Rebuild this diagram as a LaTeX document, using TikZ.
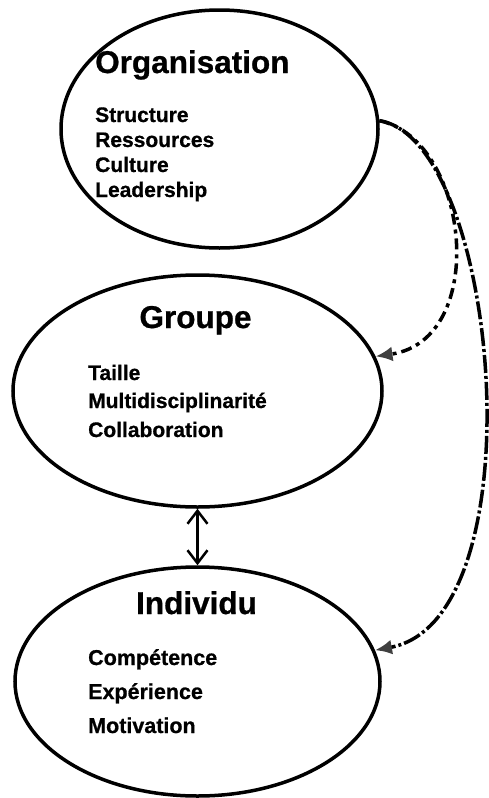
\documentclass[tikz,border=0pt]{standalone}
\usepackage{fontspec}
\setmainfont{Liberation Sans}[BoldFeatures={FakeBold=0.8}]
\usetikzlibrary{shapes.geometric,arrows.meta}
\begin{document}
\begin{tikzpicture}[x=1pt,y=-1pt,
  oval/.style={ellipse,draw=black,line width=3.5pt,inner sep=0pt},
  ttl/.style={anchor=base,inner sep=0pt,font=\bfseries\fontsize{31.5}{36}\selectfont},
  itm/.style={anchor=base west,inner sep=0pt,font=\bfseries\fontsize{21}{24}\selectfont},
  itmb/.style={itm,font=\bfseries\fontsize{21.5}{25}\selectfont},
  link/.style={line width=3.5pt,-{Latex[length=17pt,width=15pt,color=black!75]}},
  dbl/.style={line width=2.5pt,{Straight Barb[length=13pt,width=20pt]}-{Straight Barb[length=13pt,width=20pt]}},
]
\useasboundingbox (0,0) rectangle (489,798);
% ellipses
\node[oval,minimum width=317pt,minimum height=238pt] (org) at (219.5,129) {};
\node[oval,minimum width=369pt,minimum height=232pt] (grp) at (197.5,391) {};
\node[oval,minimum width=365pt,minimum height=229pt] (ind) at (197.5,681.5) {};
% Organisation texts
\node[ttl,anchor=base west] (orgT) at (95,73) {Organisation};
\node[itm] (o1) at (95,122) {Structure};
\node[itm] (o2) at (95,147) {Ressources};
\node[itm] (o3) at (95,172) {Culture};
\node[itm] (o4) at (95,197) {Leadership};
% Groupe texts
\node[ttl] (grpT) at (195.5,328) {Groupe};
\node[itm] (g1) at (88,380) {Taille};
\node[itm] (g2) at (88,408) {Multidisciplinarité};
\node[itm] (g3) at (88,437) {Collaboration};
% Individu texts
\node[ttl] (indT) at (196.5,614) {Individu};
\node[itmb] (i1) at (88,665) {Compétence};
\node[itmb] (i2) at (88,699) {Expérience};
\node[itmb] (i3) at (88,733) {Motivation};
% connectors
\draw[link,dash pattern=on 11pt off 5pt on 4pt off 5pt]
  (org.3) .. controls (470,140) and (490,340) .. (grp.11);
\draw[link,dash pattern=on 18pt off 3pt on 3pt off 3pt]
  (org.3) .. controls (500,140) and (540,620) .. (ind.10);
\draw[dbl] (grp.south) -- (ind.north);
\end{tikzpicture}
\end{document}
